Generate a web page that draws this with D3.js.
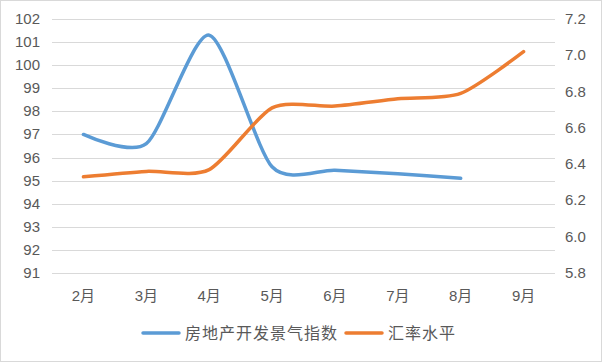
<!DOCTYPE html>
<html>
<head>
    <meta charset="utf-8" />
    <title>房地产开发景气指数与汇率水平</title>
    <script src="https://cdn.jsdelivr.net/npm/d3@7/dist/d3.min.js"></script>
    <style>
        body { margin: 0; background: #fff; }
        text { font-family: "Liberation Sans", "Noto Sans CJK SC", sans-serif; fill: #595959; }
    </style>
</head>
<body>
    <script>
        var months = ["2月", "3月", "4月", "5月", "6月", "7月", "8月", "9月"];
        var indexValues = [97.0, 96.6, 101.3, 95.6, 95.45, 95.3, 95.1];
        var rateValues = [6.33, 6.36, 6.37, 6.71, 6.72, 6.76, 6.79, 7.02];
        var leftTicks = [91, 92, 93, 94, 95, 96, 97, 98, 99, 100, 101, 102];
        var rightTicks = [5.8, 6.0, 6.2, 6.4, 6.6, 6.8, 7.0, 7.2];
        var seriesNames = ["房地产开发景气指数", "汇率水平"];
        var colors = ["#5b9bd5", "#ed7d31"];

        var width = 602, height = 362;
        var plotLeft = 52, plotRight = 555, plotTop = 19, plotBottom = 273;

        var svg = d3.select("body").append("svg")
            .attr("width", width)
            .attr("height", height);

        svg.append("rect")
            .attr("x", 0.5).attr("y", 0.5)
            .attr("width", width - 1).attr("height", height - 1)
            .attr("fill", "#fff").attr("stroke", "#d9d9d9");

        var x = d3.scaleBand().domain(months).range([plotLeft, plotRight]);
        var yL = d3.scaleLinear().domain([91, 102]).range([plotBottom, plotTop]);
        var yR = d3.scaleLinear().domain([5.8, 7.2]).range([plotBottom, plotTop]);

        // gridlines
        svg.append("g").selectAll("line").data(leftTicks).enter().append("line")
            .attr("x1", plotLeft).attr("x2", plotRight)
            .attr("y1", function (d) { return Math.round(yL(d)) + 0.5; })
            .attr("y2", function (d) { return Math.round(yL(d)) + 0.5; })
            .attr("stroke", "#d9d9d9").attr("stroke-width", 1);

        // left axis labels
        svg.append("g").selectAll("text").data(leftTicks).enter().append("text")
            .attr("x", 40).attr("y", function (d) { return yL(d) + 5; })
            .attr("text-anchor", "end")
            .style("font-size", "15px")
            .text(function (d) { return d; });

        // right axis labels
        svg.append("g").selectAll("text").data(rightTicks).enter().append("text")
            .attr("x", 565).attr("y", function (d) { return yR(d) + 5; })
            .attr("text-anchor", "start")
            .style("font-size", "15px")
            .text(function (d) { return d3.format(".1f")(d); });

        // x labels
        svg.append("g").selectAll("text").data(months).enter().append("text")
            .attr("x", function (d) { return x(d) + x.bandwidth() / 2; })
            .attr("y", 301)
            .attr("text-anchor", "middle")
            .style("font-size", "15px")
            .text(function (d) { return d; });

        var lineL = d3.line()
            .x(function (d, i) { return x(months[i]) + x.bandwidth() / 2; })
            .y(function (d) { return yL(d); })
            .curve(d3.curveCardinal.tension(0.25));

        var lineR = d3.line()
            .x(function (d, i) { return x(months[i]) + x.bandwidth() / 2; })
            .y(function (d) { return yR(d); })
            .curve(d3.curveCardinal.tension(0.25));

        svg.append("path").datum(indexValues)
            .attr("d", lineL)
            .attr("fill", "none").attr("stroke", colors[0])
            .attr("stroke-width", 3.5).attr("stroke-linecap", "round");

        svg.append("path").datum(rateValues)
            .attr("d", lineR)
            .attr("fill", "none").attr("stroke", colors[1])
            .attr("stroke-width", 3.5).attr("stroke-linecap", "round");

        // legend
        var legendX = [143, 346];
        var legend = svg.selectAll(".legend").data(seriesNames).enter().append("g")
            .attr("class", "legend")
            .attr("transform", function (d, i) { return "translate(" + legendX[i] + ",333)"; });

        legend.append("line")
            .attr("x1", 0).attr("x2", 36)
            .attr("y1", 0).attr("y2", 0)
            .attr("stroke", function (d, i) { return colors[i]; })
            .attr("stroke-width", 3.5).attr("stroke-linecap", "round");

        legend.append("text")
            .attr("x", 42).attr("y", 6)
            .style("font-size", "16px")
            .style("letter-spacing", "1px")
            .text(function (d) { return d; });
    </script>
</body>
</html>
